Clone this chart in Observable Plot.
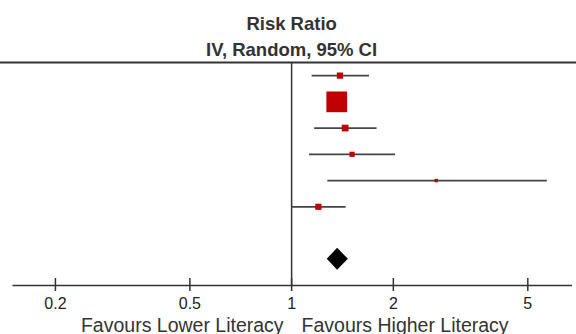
<!DOCTYPE html>
<html><head><meta charset="utf-8">
<script src="https://cdn.jsdelivr.net/npm/d3@7"></script>
<script src="https://cdn.jsdelivr.net/npm/@observablehq/plot@0.6"></script>
<style>html,body{margin:0;padding:0;background:#fff}svg{display:block}</style>
</head><body><div id="chart"></div>
<script>
// Study risk ratios (point estimate, 95% CI) and weights (%)
const studyEst    = [1.39, 1.36, 1.44, 1.51, 2.68, 1.20];
const studyLo     = [1.15, 1.29, 1.17, 1.13, 1.28, 1.005];
const studyHi     = [1.70, 1.43, 1.79, 2.03, 5.71, 1.45];
const studyWeight = [6.6, 73.0, 7.7, 4.6, 2.0, 6.5];
// Pooled estimate (diamond)
const pooledEst = 1.368, pooledLo = 1.275, pooledHi = 1.472;
const nullValue = 1;
const tickValues = [0.2, 0.5, 1, 2, 5];
const tickLabels = ["0.2", "0.5", "1", "2", "5"];
const titleLines = ["Risk Ratio", "IV, Random, 95% CI"];
const favourLabels = ["Favours Lower Literacy", "Favours Higher Literacy"];

const studies = studyEst.map((e, i) => ({row: i + 1, est: e, lo: studyLo[i], hi: studyHi[i], w: studyWeight[i]}));
const ticks = tickValues.map((v, i) => ({v, label: tickLabels[i]}));
const pooledRow = studies.length + 2;
const half = 0.42;
const diamond = [
  {y: pooledRow - half, x1: pooledEst, x2: pooledEst},
  {y: pooledRow, x1: pooledLo, x2: pooledHi},
  {y: pooledRow + half, x1: pooledEst, x2: pooledEst}
];

const sans = "'Liberation Sans', Arial, sans-serif";
const narrow = "'Liberation Sans Narrow', 'Arial Narrow', 'Liberation Sans', sans-serif";
const ink = "#333";

const chart = Plot.plot({
  width: 576,
  height: 334,
  marginTop: 62,
  marginBottom: 49,
  marginLeft: 12.7,
  marginRight: 5.3,
  style: {fontFamily: sans, background: "#fff"},
  x: {type: "log", domain: [0.15, 6.72], axis: null},
  y: {domain: [0.5, 9.0], reverse: true, axis: null},
  r: {type: "sqrt", domain: [0, 73], range: [0, 11.7]},
  marks: [
    Plot.frame({anchor: "top", insetLeft: -13, insetRight: -6, stroke: ink, strokeWidth: 2}),
    Plot.frame({anchor: "bottom", stroke: ink, strokeWidth: 1.5}),
    Plot.ruleX([nullValue], {stroke: ink, strokeWidth: 1.5}),
    Plot.ruleX(ticks, {x: "v", insetTop: 216, insetBottom: -6, stroke: ink, strokeWidth: 1.5}),
    Plot.text(ticks, {x: "v", text: "label", frameAnchor: "bottom", lineAnchor: "bottom", dy: 23, fontSize: 16, fontFamily: narrow, fill: "#222"}),
    Plot.ruleY(studies, {y: "row", x1: "lo", x2: "hi", stroke: "#444", strokeWidth: 1.8}),
    Plot.dot(studies, {x: "est", y: "row", r: "w", symbol: "square", fill: "#c00000", stroke: null}),
    Plot.areaX(diamond, {y: "y", x1: "x1", x2: "x2", fill: "#000"}),
    Plot.text([titleLines[0]], {x: () => nullValue, text: d => d, frameAnchor: "top", lineAnchor: "bottom", dy: -33, fontWeight: "bold", fontSize: 18.5, fill: ink}),
    Plot.text([titleLines[1]], {x: () => nullValue, text: d => d, frameAnchor: "top", lineAnchor: "bottom", dy: -6.5, fontWeight: "bold", fontSize: 18.5, fill: ink}),
    Plot.text([favourLabels[0]], {x: () => nullValue, text: d => d, frameAnchor: "bottom", lineAnchor: "bottom", dy: 46, dx: -8, textAnchor: "end", fontSize: 19.5, fill: ink}),
    Plot.text([favourLabels[1]], {x: () => nullValue, text: d => d, frameAnchor: "bottom", lineAnchor: "bottom", dy: 46, dx: 10, textAnchor: "start", fontSize: 19.5, fill: ink})
  ]
});
document.getElementById("chart").appendChild(chart);
</script>
</body></html>
